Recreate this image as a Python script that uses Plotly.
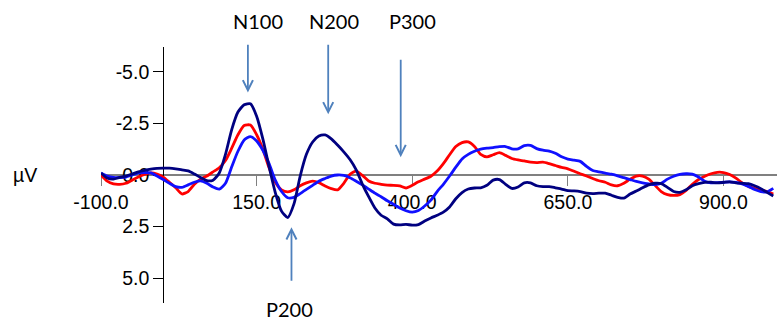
import plotly.graph_objects as go

# time axis (ms)
times = list(range(-100, 990, 10))

red_uv = [0.0, 0.3, 0.43, 0.45, 0.4, 0.25, 0.1, -0.03, -0.1, -0.05,
          0.1, 0.35, 0.62, 0.92, 0.8, 0.45, 0.2, 0.05, -0.15, -0.35,
          -0.7, -1.3, -1.95, -2.4, -2.42, -1.95, -1.25, -0.35, 0.35, 0.72,
          0.82, 0.72, 0.52, 0.38, 0.3, 0.37, 0.53, 0.66, 0.72, 0.4,
          -0.03, -0.19, 0.02, 0.29, 0.4, 0.45, 0.49, 0.5, 0.53, 0.63,
          0.5, 0.33, 0.2, 0.06, -0.19, -0.55, -0.98, -1.38, -1.57, -1.6,
          -1.38, -1.0, -0.88, -0.98, -1.08, -0.95, -0.8, -0.73, -0.68, -0.62,
          -0.6, -0.62, -0.55, -0.46, -0.37, -0.3, -0.18, -0.06, 0.05, 0.17,
          0.28, 0.35, 0.48, 0.52, 0.4, 0.2, 0.05, 0.05, 0.2, 0.5,
          0.8, 0.95, 0.99, 0.95, 0.75, 0.45, 0.22, 0.06, -0.06, -0.13,
          -0.12, -0.02, 0.15, 0.38, 0.55, 0.65, 0.73, 0.8, 0.92]

blue_uv = [-0.1, 0.05, 0.12, 0.12, 0.1, 0.0, -0.1, -0.12, -0.1, 0.05,
           0.22, 0.4, 0.56, 0.6, 0.48, 0.35, 0.28, 0.4, 0.58, 0.68,
           0.4, -0.4, -1.15, -1.7, -1.86, -1.65, -1.2, -0.55, 0.25, 0.8,
           1.1, 1.08, 0.9, 0.7, 0.5, 0.3, 0.17, 0.05, 0.0, 0.02,
           0.13, 0.3, 0.48, 0.68, 0.88, 1.05, 1.25, 1.42, 1.6, 1.73,
           1.8, 1.72, 1.5, 1.22, 0.8, 0.45, 0.05, -0.38, -0.78, -1.0,
           -1.15, -1.25, -1.3, -1.33, -1.37, -1.38, -1.27, -1.27, -1.42, -1.43,
           -1.28, -1.2, -1.16, -1.05, -0.88, -0.77, -0.72, -0.66, -0.42, -0.22,
           -0.15, -0.09, -0.04, 0.04, 0.13, 0.22, 0.31, 0.38, 0.43, 0.47,
           0.4, 0.2, 0.06, -0.03, -0.06, -0.04, 0.1, 0.3, 0.38, 0.37,
           0.35, 0.33, 0.36, 0.43, 0.55, 0.7, 0.8, 0.82, 0.65]

navy_uv = [-0.1, 0.15, 0.2, 0.12, 0.05, -0.05, -0.15, -0.22, -0.28, -0.32,
           -0.33, -0.33, -0.3, -0.25, -0.2, -0.05, 0.12, 0.27, 0.25, -0.1,
           -1.0, -2.2, -3.05, -3.4, -3.45, -2.85, -1.75, -0.4, 0.85, 1.75,
           2.06, 1.4, 0.05, -1.0, -1.6, -1.89, -1.94, -1.75, -1.45, -1.12,
           -0.75, -0.25, 0.45, 1.05, 1.6, 1.95, 2.12, 2.38, 2.42, 2.39,
           2.43, 2.4, 2.23, 2.08, 1.95, 1.8, 1.55, 1.15, 0.85, 0.68,
           0.63, 0.62, 0.5, 0.25, 0.22, 0.45, 0.65, 0.58, 0.38, 0.38,
           0.52, 0.56, 0.56, 0.62, 0.68, 0.76, 0.77, 0.8, 0.88, 0.9,
           0.88, 0.88, 0.98, 1.08, 1.12, 0.92, 0.78, 0.62, 0.48, 0.4,
           0.42, 0.6, 0.8, 0.84, 0.72, 0.52, 0.42, 0.36, 0.35, 0.38,
           0.36, 0.33, 0.38, 0.4, 0.42, 0.52, 0.66, 0.84, 1.02]

x_tickvals = [-100, 150, 400, 650, 900]
x_ticktext = ["-100.0", "150.0", "400.0", "650.0", "900.0"]
y_tickvals = [-5, -2.5, 0, 2.5, 5]
y_ticktext = ["-5.0", "-2.5", "0.0", "2.5", "5.0"]

# component labels: (text, arrow x ms, arrow tip uV, arrow tail uV, label x ms, label y paper)
components = [
    ("N100", 136, -4.0, -6.38, 152, 1.103),
    ("N200", 265, -2.94, -6.38, 274, 1.103),
    ("P300", 381.5, -0.86, -5.65, 400, 1.103),
    ("P200", 206, 2.53, 5.2, 203, -0.024),
]

XR = [-100, 986]
YR = [6.2, -6.2]

fig = go.Figure()
for vals, col in [(red_uv, "#ff0000"), (blue_uv, "#1010ff"), (navy_uv, "#000080")]:
    fig.add_trace(go.Scatter(x=times, y=vals, mode="lines",
                             line=dict(color=col, width=2.8, shape="spline", smoothing=0.6),
                             hoverinfo="skip", showlegend=False))

tickfont = dict(family="Liberation Sans, Arial, sans-serif", size=19.5, color="#000000")
ypos = (0 - XR[0]) / (XR[1] - XR[0])

fig.update_layout(
    width=777, height=321,
    margin=dict(l=101, r=0, t=47, b=18),
    paper_bgcolor="white", plot_bgcolor="white",
    showlegend=False,
    xaxis=dict(range=XR, anchor="free", position=0.5, showgrid=False, zeroline=False,
               showline=True, linecolor="#808080", linewidth=1.5,
               ticks="outside", ticklen=10, tickwidth=1.2, tickcolor="#808080",
               tickvals=x_tickvals, ticktext=x_ticktext, tickfont=tickfont,
               layer="below traces"),
    xaxis2=dict(range=XR, matches="x", overlaying="x", anchor="free", position=0.5,
                showgrid=False, zeroline=False, showline=False,
                ticks="inside", ticklen=10, tickwidth=1.2, tickcolor="#808080",
                tickvals=x_tickvals, showticklabels=False, layer="below traces"),
    yaxis=dict(range=YR, anchor="free", position=ypos, showgrid=False, zeroline=False,
               showline=True, linecolor="#000000", linewidth=1.2,
               ticks="outside", ticklen=10, tickwidth=1.2, tickcolor="#000000",
               tickvals=y_tickvals, ticktext=y_ticktext, tickfont=tickfont,
               layer="below traces"),
    yaxis2=dict(range=YR, matches="y", overlaying="y", anchor="free", position=ypos,
                showgrid=False, zeroline=False, showline=False,
                ticks="inside", ticklen=10, tickwidth=1.2, tickcolor="#000000",
                tickvals=y_tickvals, showticklabels=False, layer="below traces"),
)

fig.add_annotation(text="µV", xref="paper", yref="y", x=(25 - 101) / 676, y=0,
                   xanchor="center", yanchor="middle", showarrow=False,
                   font=dict(family="Liberation Sans, Arial, sans-serif", size=19.5, color="#000000"))

for name, ax_ms, tip, tail, lx, ly in components:
    fig.add_annotation(x=ax_ms, y=tip, ax=ax_ms, ay=tail, xref="x", yref="y",
                       axref="x", ayref="y", text="", showarrow=True,
                       arrowhead=5, arrowsize=1.1, arrowwidth=1.8, arrowcolor="#4f81bd")
    fig.add_annotation(x=lx, y=ly, xref="x", yref="paper", text=name, showarrow=False,
                       xanchor="center", yanchor="middle",
                       font=dict(family="Lato, Open Sans, sans-serif", size=20, color="#000000"))

fig.write_html("out.html")
